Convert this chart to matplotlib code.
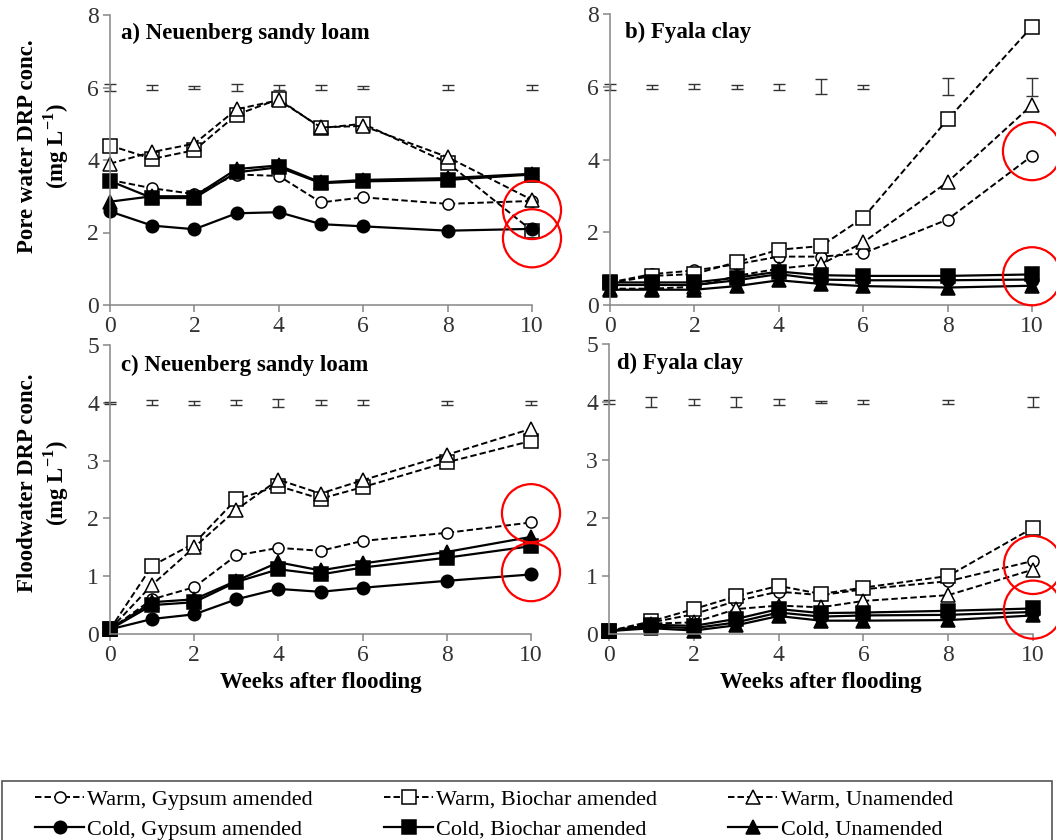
import matplotlib.pyplot as plt
from matplotlib.lines import Line2D

plt.rcParams['font.family'] = ['Liberation Serif', 'DejaVu Serif']
plt.rcParams['mathtext.fontset'] = 'custom'
plt.rcParams['mathtext.rm'] = 'Liberation Serif'
plt.rcParams['mathtext.bf'] = 'Liberation Serif:bold'

# Weeks after flooding (sampling times)
weeks = [0, 1, 2, 3, 4, 5, 6, 8, 10]

# a) Neuenberg sandy loam, pore water DRP (mg/L)
a_warm_gyp = [3.45, 3.22, 3.06, 3.60, 3.56, 2.83, 2.97, 2.79, 2.87]
a_warm_bio = [4.40, 4.03, 4.27, 5.25, 5.68, 4.88, 5.00, 3.92, 2.05]
a_warm_una = [3.90, 4.22, 4.45, 5.40, 5.65, 4.90, 4.94, 4.08, 2.90]
a_cold_gyp = [2.58, 2.19, 2.09, 2.53, 2.56, 2.23, 2.17, 2.05, 2.10]
a_cold_bio = [3.42, 2.95, 2.95, 3.66, 3.80, 3.36, 3.41, 3.45, 3.60]
a_cold_una = [2.85, 3.00, 3.00, 3.75, 3.85, 3.38, 3.45, 3.50, 3.62]
a_err = [0.10, 0.08, 0.055, 0.11, 0.07, 0.065, 0.035, 0.065, 0.065]

# b) Fyala clay, pore water DRP
b_warm_gyp = [0.62, 0.85, 0.95, 1.12, 1.33, 1.33, 1.42, 2.35, 4.10]
b_warm_bio = [0.60, 0.80, 0.85, 1.18, 1.52, 1.62, 2.40, 5.10, 7.65]
b_warm_una = [0.45, 0.45, 0.50, 0.80, 1.00, 1.12, 1.72, 3.38, 5.50]
b_cold_gyp = [0.55, 0.55, 0.55, 0.68, 0.85, 0.70, 0.68, 0.68, 0.70]
b_cold_bio = [0.62, 0.62, 0.62, 0.75, 0.92, 0.82, 0.80, 0.80, 0.84]
b_cold_una = [0.42, 0.42, 0.42, 0.52, 0.68, 0.58, 0.52, 0.48, 0.53]
b_err = [0.08, 0.05, 0.07, 0.06, 0.08, 0.21, 0.05, 0.23, 0.25]

# c) Neuenberg sandy loam, floodwater DRP
c_warm_gyp = [0.08, 0.60, 0.81, 1.36, 1.49, 1.44, 1.61, 1.75, 1.93]
c_warm_bio = [0.08, 1.18, 1.57, 2.33, 2.56, 2.34, 2.54, 2.97, 3.34]
c_warm_una = [0.08, 0.85, 1.50, 2.15, 2.67, 2.43, 2.66, 3.10, 3.55]
c_cold_gyp = [0.08, 0.26, 0.34, 0.60, 0.78, 0.73, 0.80, 0.92, 1.03]
c_cold_bio = [0.08, 0.50, 0.55, 0.90, 1.12, 1.03, 1.15, 1.32, 1.52]
c_cold_una = [0.08, 0.55, 0.60, 0.92, 1.24, 1.10, 1.22, 1.42, 1.68]
c_err = [0.02, 0.045, 0.035, 0.045, 0.065, 0.04, 0.045, 0.035, 0.035]

# d) Fyala clay, floodwater DRP
d_warm_gyp = [0.05, 0.20, 0.34, 0.57, 0.73, 0.67, 0.77, 0.91, 1.26]
d_warm_bio = [0.05, 0.22, 0.43, 0.65, 0.83, 0.69, 0.80, 1.00, 1.83]
d_warm_una = [0.05, 0.18, 0.20, 0.43, 0.49, 0.46, 0.57, 0.67, 1.11]
d_cold_gyp = [0.05, 0.13, 0.10, 0.20, 0.37, 0.30, 0.32, 0.33, 0.38]
d_cold_bio = [0.05, 0.16, 0.14, 0.26, 0.43, 0.36, 0.37, 0.40, 0.44]
d_cold_una = [0.05, 0.10, 0.06, 0.15, 0.31, 0.23, 0.23, 0.24, 0.32]
d_err = [0.04, 0.09, 0.05, 0.09, 0.055, 0.015, 0.035, 0.035, 0.09]

labels = ['Warm, Gypsum amended', 'Warm, Biochar amended', 'Warm, Unamended',
          'Cold, Gypsum amended', 'Cold, Biochar amended', 'Cold, Unamended']

# red highlight circles (y position at week 10)
a_marks = [2.62, 1.84]
b_marks = [4.23, 0.79]
c_marks = [2.09, 1.07]
d_marks = [1.19, 0.42]

W, H = 1056, 840
fig = plt.figure(figsize=(W / 100, H / 100), dpi=100)


def box(l, r, t, b):
    return [l / W, 1 - b / H, (r - l) / W, (b - t) / H]


dash = (0, (3.3, 1.6))
styles = [
    dict(marker='o', mfc='white', ms=8, ls=dash, lw=1.4),
    dict(marker='s', mfc='white', ms=9.5, ls=dash, lw=1.4),
    dict(marker='^', mfc='white', ms=9.5, ls=dash, lw=1.4),
    dict(marker='o', mfc='black', ms=9, ls='-', lw=1.6),
    dict(marker='s', mfc='black', ms=9.5, ls='-', lw=1.6),
    dict(marker='^', mfc='black', ms=9.5, ls='-', lw=1.6),
]


def panel(rect, series, err, bar_y, ymax, ystep, title, title_xy, marks, xlabel):
    ax = fig.add_axes(rect)
    for ys, st, lab in zip(series, styles, labels):
        ax.plot(weeks, ys, color='black', mec='black', mew=1.1, label=lab,
                clip_on=False, **st)
    ax.errorbar(weeks, [bar_y] * len(weeks), yerr=err, fmt='none',
                ecolor='#333333', elinewidth=1, capsize=4, capthick=1, clip_on=False)
    ax.scatter([10] * len(marks), marks, s=1750, facecolors='none',
               edgecolors='red', linewidths=1.6, clip_on=False, zorder=5)
    ax.set_xlim(0, 10)
    ax.set_ylim(0, ymax)
    ax.set_xticks(range(0, 11, 2))
    ax.set_yticks(range(0, ymax + 1, ystep))
    for s in ['top', 'right']:
        ax.spines[s].set_visible(False)
    for s in ['left', 'bottom']:
        ax.spines[s].set_color('#868686')
        ax.spines[s].set_linewidth(1.1)
    ax.tick_params(direction='out', length=5, width=1.1, color='#868686',
                   labelsize=17, labelcolor='#333333', pad=3)
    fig.text(title_xy[0] / W, 1 - title_xy[1] / H, title, fontsize=16.5,
             fontweight='bold', ha='left', va='center')
    if xlabel:
        ax.set_xlabel('Weeks after flooding', fontsize=16.5, fontweight='bold', labelpad=4)
    return ax


ax_a = panel(box(110, 532, 15, 305),
             [a_warm_gyp, a_warm_bio, a_warm_una, a_cold_gyp, a_cold_bio, a_cold_una],
             a_err, 6, 8, 2, 'a) Neuenberg sandy loam', (121, 33), a_marks, False)
ax_b = panel(box(610, 1032, 14, 305),
             [b_warm_gyp, b_warm_bio, b_warm_una, b_cold_gyp, b_cold_bio, b_cold_una],
             b_err, 6, 8, 2, 'b) Fyala clay', (625, 32), b_marks, False)
ax_c = panel(box(110, 531, 345, 634),
             [c_warm_gyp, c_warm_bio, c_warm_una, c_cold_gyp, c_cold_bio, c_cold_una],
             c_err, 4, 5, 1, 'c) Neuenberg sandy loam', (121, 365), c_marks, True)
ax_d = panel(box(609, 1033, 344, 634),
             [d_warm_gyp, d_warm_bio, d_warm_una, d_cold_gyp, d_cold_bio, d_cold_una],
             d_err, 4, 5, 1, 'd) Fyala clay', (617, 363), d_marks, True)

# y axis labels
fig.text(44 / W, 1 - 146 / H, 'Pore water DRP conc.\n(mg L$^{\\mathbf{-1}}$)', fontsize=16.5,
         fontweight='bold', rotation=90, ha='center', va='center', multialignment='center',
         linespacing=1.15)
fig.text(44 / W, 1 - 483 / H, 'Floodwater DRP conc.\n(mg L$^{\\mathbf{-1}}$)', fontsize=16.5,
         fontweight='bold', rotation=90, ha='center', va='center', multialignment='center',
         linespacing=1.15)

# legend box, cut by the bottom of the figure
frame = plt.Rectangle((2 / W, -0.05), 1050 / W, 0.05 + (1 - 781 / H), transform=fig.transFigure,
                      facecolor='white', edgecolor='#555555', lw=1.2)
fig.patches.append(frame)

handles = []
for st in styles:
    handles.append(Line2D([], [], color='black', mec='black', mew=1.1, **st))
order = [0, 3, 1, 4, 2, 5]
fig.legend([handles[i] for i in order], [labels[i] for i in order], ncol=3,
           loc='upper left', bbox_to_anchor=(24 / W, 1 - 778 / H), frameon=False,
           fontsize=16, borderpad=0, handlelength=2.2, handletextpad=0.15,
           columnspacing=3.2, labelspacing=0.43)

plt.savefig('out.png', dpi=100)
